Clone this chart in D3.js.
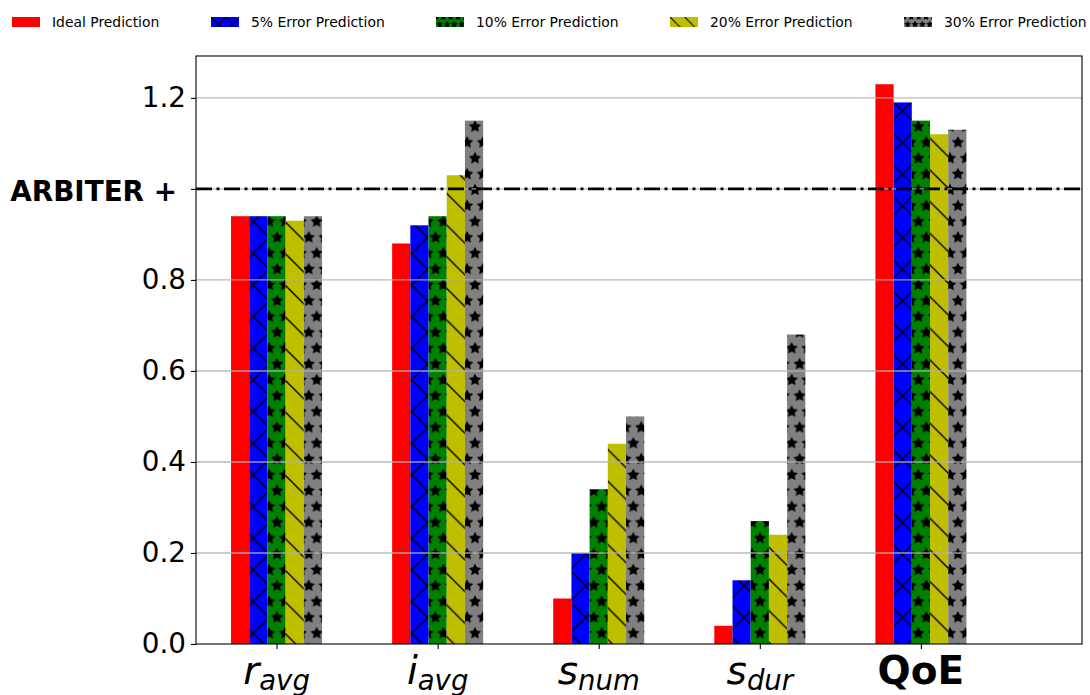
<!DOCTYPE html>
<html><head><meta charset="utf-8">
<script src="https://cdn.jsdelivr.net/npm/d3@7"></script>
<style>body{margin:0;background:#fff} svg{display:block;font-family:"DejaVu Sans",sans-serif}</style>
</head><body><svg id="c" width="1090" height="695"></svg>
<script>
// ---- data ----
const categories = ["r_avg", "i_avg", "s_num", "s_dur", "QoE"];
const xLabelMain = ["r", "i", "s", "s", "QoE"];
const xLabelSub = ["avg", "avg", "num", "dur", ""];
const seriesNames = ["Ideal Prediction", "5% Error Prediction", "10% Error Prediction", "20% Error Prediction", "30% Error Prediction"];
const ideal = [0.94, 0.88, 0.10, 0.04, 1.23];
const err5  = [0.94, 0.92, 0.20, 0.14, 1.19];
const err10 = [0.94, 0.94, 0.34, 0.27, 1.15];
const err20 = [0.93, 1.03, 0.44, 0.24, 1.12];
const err30 = [0.94, 1.15, 0.50, 0.68, 1.13];
const yTicks = [0, 0.2, 0.4, 0.6, 0.8, 1.0, 1.2];
const yTickLabels = ["0.0", "0.2", "0.4", "0.6", "0.8", "ARBITER +", "1.2"];
const referenceLine = 1.0;

const series = [ideal, err5, err10, err20, err30];
const colors = ["#ff0000", "#0000ff", "#008000", "#bfbf00", "#808080"];
const hatches = [null, "x", "star", "back", "star"];

// ---- layout ----
const svg = d3.select("#c");
const L = 196, R = 1082, T = 56, B = 644;
const xs = d3.scaleLinear().domain([-0.5, 5]).range([L, R]);
const ys = d3.scaleLinear().domain([0, 1.292]).range([B, T]);
const bw = 0.113;

// ---- hatch patterns ----
const defs = svg.append("defs");
function starPath(cx, cy, r) {
  const pts = [];
  for (let i = 0; i < 10; i++) {
    const a = -Math.PI / 2 + i * Math.PI / 5;
    const rr = i % 2 === 0 ? r : r * 0.5;
    pts.push([cx + rr * Math.cos(a), cy + rr * Math.sin(a)]);
  }
  return "M" + pts.map(p => p[0].toFixed(2) + "," + p[1].toFixed(2)).join("L") + "Z";
}
function makePatterns(suffix, U, starScale) {
  colors.forEach((c, k) => {
    const h = hatches[k];
    if (!h) return;
    const id = "p" + k + suffix;
    if (h === "x" || h === "back") {
      const t = U / 3;
      const p = defs.append("pattern").attr("id", id).attr("patternUnits", "userSpaceOnUse")
        .attr("width", t).attr("height", t);
      p.append("rect").attr("width", t).attr("height", t).attr("fill", c);
      const lw = U > 60 ? 1.4 : 1.1;
      for (const d of [-t, 0, t]) {
        p.append("line").attr("x1", d).attr("y1", 0).attr("x2", d + t).attr("y2", t)
          .attr("stroke", "#000").attr("stroke-width", lw);
        if (h === "x") p.append("line").attr("x1", d + t).attr("y1", 0).attr("x2", d).attr("y2", t)
          .attr("stroke", "#000").attr("stroke-width", lw);
      }
    } else {
      const s = U / 6;
      const p = defs.append("pattern").attr("id", id).attr("patternUnits", "userSpaceOnUse")
        .attr("width", s).attr("height", 2 * s);
      p.append("rect").attr("width", s).attr("height", 2 * s).attr("fill", c);
      const centers = [[0, 0], [s, 0], [0, 2 * s], [s, 2 * s], [s / 2, s], [-s / 2, s], [1.5 * s, s]];
      centers.forEach(([cx, cy]) => p.append("path").attr("d", starPath(cx, cy, s * starScale)).attr("fill", "#000"));
    }
  });
}
makePatterns("", 95, 0.41);
makePatterns("L", 44, 0.5);
const fillFor = (k, sfx) => hatches[k] ? `url(#p${k}${sfx})` : colors[k];

// ---- bars ----
const px = xs(bw) - xs(0);
series.forEach((vals, k) => {
  svg.append("g").selectAll("rect").data(vals).join("rect")
    .attr("x", (v, i) => xs(i + (k - 2) * bw) - px / 2)
    .attr("width", px)
    .attr("y", v => ys(v))
    .attr("height", v => ys(0) - ys(v))
    .attr("fill", fillFor(k, ""));
});

// ---- grid (drawn over bars) ----
svg.append("g").selectAll("line").data(yTicks.filter(v => v > 0)).join("line")
  .attr("x1", L).attr("x2", R).attr("y1", v => ys(v)).attr("y2", v => ys(v))
  .attr("stroke", "#b0b0b0").attr("stroke-width", 1.4).attr("opacity", 0.85);

// ---- reference dash-dot line ----
svg.append("line").attr("x1", L).attr("x2", R)
  .attr("y1", ys(referenceLine)).attr("y2", ys(referenceLine))
  .attr("stroke", "#000").attr("stroke-width", 2.6).attr("stroke-dasharray", "16,4.5,3,4.5");

// ---- axes ----
const yAxis = d3.axisLeft(ys).tickValues(yTicks).tickSize(5).tickPadding(5)
  .tickFormat((d, i) => yTickLabels[i]);
const gy = svg.append("g").attr("transform", `translate(${L},0)`).call(yAxis);
gy.select(".domain").remove();
gy.selectAll(".tick line").attr("stroke", "#000").attr("stroke-width", 1.1);
gy.selectAll(".tick text").attr("font-family", "DejaVu Sans").attr("font-size", 27.8).attr("fill", "#000")
  .attr("font-weight", (d, i) => yTickLabels[i] === "ARBITER +" ? "bold" : "normal")
  .attr("dx", (d, i) => yTickLabels[i] === "ARBITER +" ? -9 : 0)
  .attr("dy", (d, i) => yTickLabels[i] === "ARBITER +" ? "0.4em" : "0.32em");

const xAxis = d3.axisBottom(xs).tickValues(d3.range(categories.length)).tickSize(5).tickFormat("");
const gx = svg.append("g").attr("transform", `translate(0,${B})`).call(xAxis);
gx.select(".domain").remove();
gx.selectAll(".tick line").attr("stroke", "#000").attr("stroke-width", 1.1);

// x labels (math style)
categories.forEach((c, i) => {
  const t = svg.append("text").attr("x", xs(i)).attr("y", 684).attr("text-anchor", "middle")
    .attr("font-family", "DejaVu Sans").attr("fill", "#000");
  if (xLabelSub[i]) {
    t.append("tspan").attr("font-style", "oblique").attr("font-size", 39).text(xLabelMain[i]);
    t.append("tspan").attr("font-style", "oblique").attr("font-size", 27.5).attr("dy", 6).text(xLabelSub[i]);
  } else {
    t.append("tspan").attr("font-weight", "bold").attr("font-size", 39).text(xLabelMain[i]);
  }
});

// frame
svg.append("rect").attr("x", L).attr("y", T).attr("width", R - L).attr("height", B - T)
  .attr("fill", "none").attr("stroke", "#000").attr("stroke-width", 1.1);

// ---- legend ----
const legendX = [12, 211, 436, 670, 904];
const lg = svg.append("g").selectAll("g").data(seriesNames).join("g")
  .attr("transform", (d, k) => `translate(${legendX[k]},17)`);
lg.append("rect").attr("width", 28).attr("height", 10).attr("fill", (d, k) => fillFor(k, "L"));
lg.append("text").attr("x", 40).attr("y", 9.5).attr("font-size", 13.9).attr("fill", "#000")
  .attr("font-family", "DejaVu Sans").text(d => d);
</script></body></html>
